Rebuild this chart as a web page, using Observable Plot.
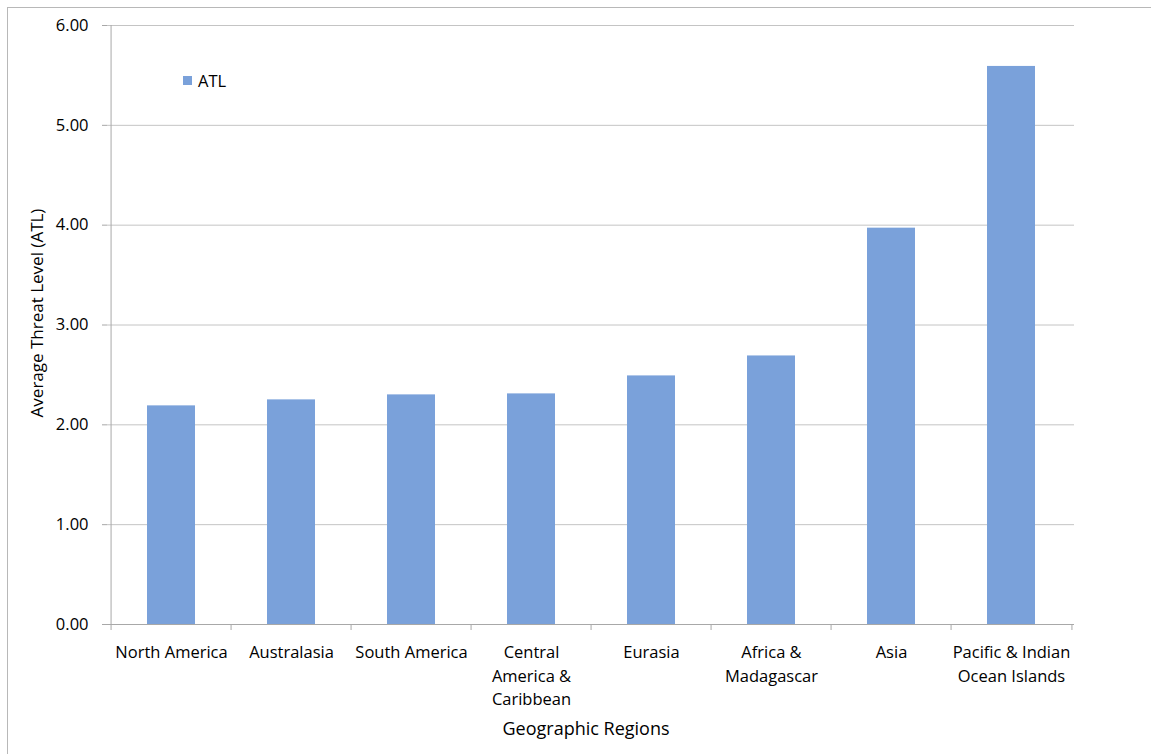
<!DOCTYPE html>
<html>
<head>
<meta charset="utf-8">
<script src="https://cdn.jsdelivr.net/npm/d3@7"></script>
<script src="https://cdn.jsdelivr.net/npm/@observablehq/plot@0.6"></script>
<style>
  html, body { margin: 0; padding: 0; background: #fff; }
  #wrap { position: relative; width: 1151px; height: 754px; overflow: hidden; font-family: "Open Sans", Lato, sans-serif; }
  #border { position: absolute; left: 7px; top: 7px; width: 1160px; height: 760px; border-left: 1px solid #b8b8b8; border-top: 1px solid #b8b8b8; }
  #legend { position: absolute; left: 183px; top: 69px; display: flex; align-items: center; font-size: 16.5px; color: #000; }
  #legend .sw { width: 9px; height: 9px; background: #7aa1da; margin-right: 6px; }
  svg { position: absolute; left: 0; top: 0; }
</style>
</head>
<body>
<div id="wrap">
  <div id="border"></div>
  <div id="chart"></div>
  <div id="legend"><span class="sw"></span><span>ATL</span></div>
</div>
<script>
const categories = ["North America", "Australasia", "South America", "Central America & Caribbean", "Eurasia", "Africa & Madagascar", "Asia", "Pacific & Indian Ocean Islands"];
const values = [2.19, 2.25, 2.30, 2.31, 2.49, 2.69, 3.97, 5.59];
const tickLabels = ["North America", "Australasia", "South America", "Central\nAmerica &\nCaribbean", "Eurasia", "Africa &\nMadagascar", "Asia", "Pacific & Indian\nOcean Islands"];
const yTicks = [0, 1, 2, 3, 4, 5, 6];
const seriesName = "ATL";
const xTitle = "Geographic Regions";
const yTitle = "Average Threat Level (ATL)";

const data = categories.map((c, i) => ({region: c, value: values[i]}));
const labelOf = new Map(categories.map((c, i) => [c, tickLabels[i]]));

const W = 1151, H = 754, mL = 107, mR = 77, mT = 25, mB = 130;
const step = (W - mL - mR) / categories.length;
const axisColor = "#a8a8a8";
const font = "'Open Sans', Lato, sans-serif";

const chart = Plot.plot({
  width: W, height: H,
  marginLeft: mL, marginRight: mR, marginTop: mT, marginBottom: mB,
  style: {fontFamily: font, fontSize: "16px", background: "transparent", color: "#000"},
  x: {domain: categories, paddingInner: 0.6, paddingOuter: 0.3, label: null},
  y: {domain: [0, 6], label: null},
  marks: [
    Plot.gridY(yTicks.filter(v => v > 0), {stroke: "#c4c4c4", strokeOpacity: 1}),
    Plot.barY(data, {x: "region", y: "value", fill: "#7aa1da"}),
    Plot.ruleY([0], {stroke: axisColor}),
    Plot.axisY({ticks: yTicks, tickFormat: d => d.toFixed(2), tickSize: 5, tickPadding: 14, stroke: axisColor, fill: "#000", fontSize: 16.5, label: null}),
    Plot.axisX({tickSize: 6, tickFormat: () => "", dx: -step / 2, stroke: axisColor, label: null}),
    Plot.axisX({ticks: [categories[categories.length - 1]], tickSize: 6, tickFormat: () => "", dx: step / 2, stroke: axisColor, label: null}),
    Plot.axisX({tickSize: 0, tickPadding: 17, tickFormat: d => labelOf.get(d), lineHeight: 1.42, fill: "#000", fontSize: 16.5, label: null}),
    Plot.ruleX([categories[0]], {dx: -step / 2, y1: 0, y2: 6, stroke: axisColor}),
    Plot.text([xTitle], {text: d => d, frameAnchor: "bottom", dy: 110, dx: -5, fontSize: 18, fill: "#000"}),
    Plot.text([yTitle], {text: d => d, frameAnchor: "left", textAnchor: "middle", rotate: -90, dx: -70, dy: -12, fontSize: 17, fill: "#000"})
  ]
});
document.getElementById("chart").appendChild(chart);
</script>
</body>
</html>
